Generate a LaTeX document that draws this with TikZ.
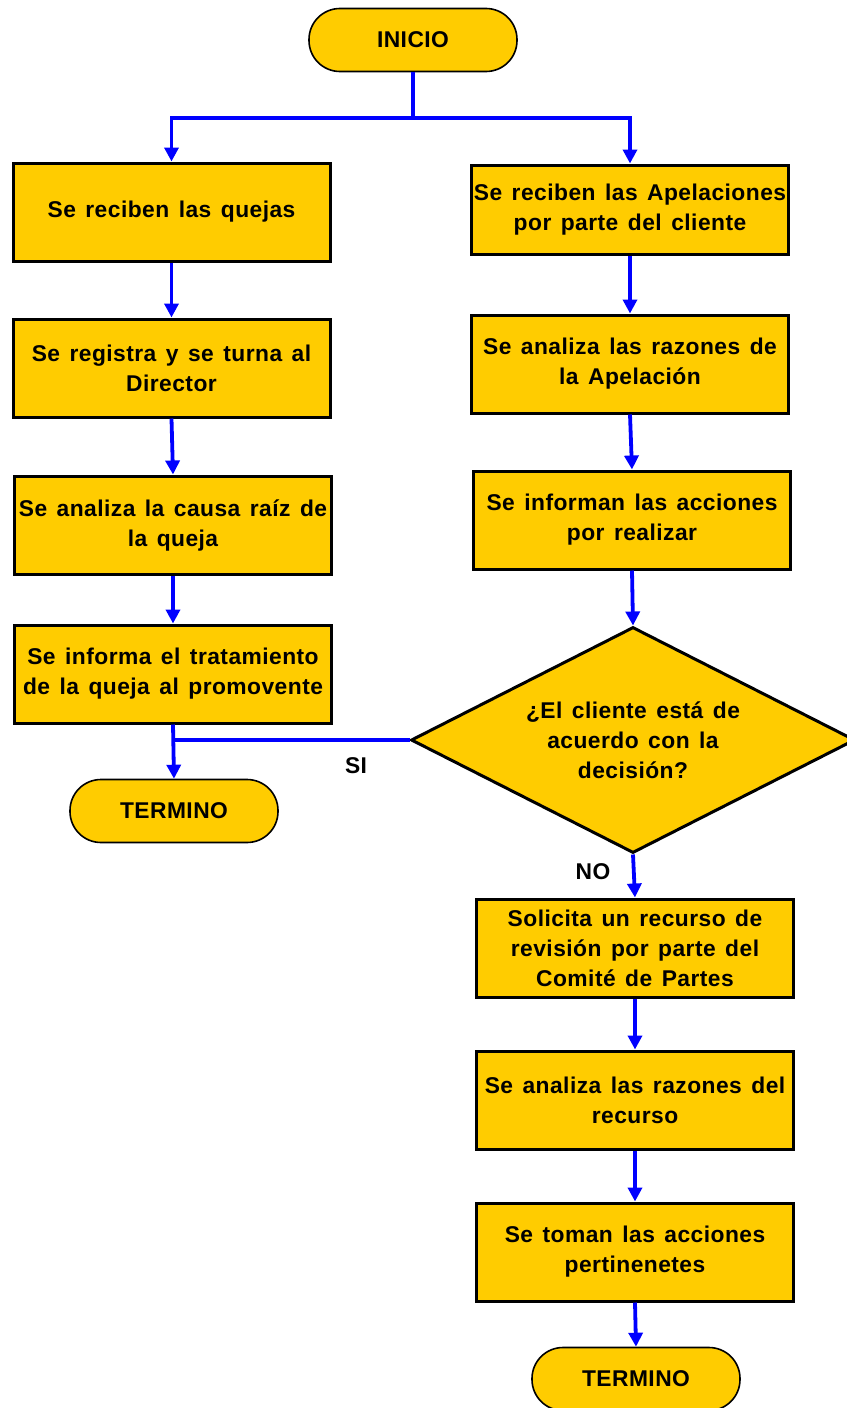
\documentclass[tikz,border=0pt]{standalone}
\usepackage{fontspec}
\setmainfont{Liberation Sans}[LetterSpace=2,WordSpace=1.4]
\usetikzlibrary{shapes.geometric,arrows.meta}
\definecolor{boxfill}{HTML}{FFCC00}
\definecolor{flowblue}{HTML}{0000FF}
\begin{document}
\begin{tikzpicture}[x=0.5pt,y=-0.5pt,
  txt/.style={font=\fontsize{11.4}{15}\selectfont\bfseries},
  procbox/.style={txt,draw=black,line width=1.5pt,fill=boxfill,minimum width=158.5pt,minimum height=49pt,inner sep=0pt,align=center},
  stadium/.style={txt,draw=black,line width=0.8pt,fill=boxfill,minimum width=104pt,minimum height=31.5pt,rounded corners=15.5pt,inner sep=0pt},
  decision/.style={txt,diamond,draw=black,line width=1.5pt,fill=boxfill,minimum width=222pt,minimum height=113pt,inner sep=0pt,aspect=1.96,align=center},
  flow/.style={draw=flowblue,line width=1.9pt},
  flowarrow/.style={flow,-{Triangle[width=7pt,length=7pt]}},
  lbl/.style={txt,inner sep=0pt}]
\useasboundingbox (0,0) rectangle (846,1408);
\node[stadium] (inicio) at (413,40) {INICIO};
\node[procbox] (L1) at (171.5,212) {Se reciben las quejas};
\node[procbox] (L2) at (171.5,368) {Se registra y se turna al\\Director};
\node[procbox] (L3) at (173,525) {Se analiza la causa raíz de\\la queja};
\node[procbox] (L4) at (173,674) {Se informa el tratamiento\\de la queja al promovente};
\node[stadium] (TL) at (174,811) {TERMINO};
\node[procbox,minimum height=44.5pt] (R1) at (630,209.5) {Se reciben las Apelaciones\\por parte del cliente};
\node[procbox] (R2) at (630,364) {Se analiza las razones de\\la Apelación};
\node[procbox] (R3) at (632,520) {Se informan las acciones\\por realizar};
\node[decision] (D) at (633,740) {¿El cliente está de\\acuerdo con la\\decisión?};
\node[procbox] (R4) at (635,948) {Solicita un recurso de\\revisión por parte del\\Comité de Partes};
\node[procbox] (R5) at (635,1100) {Se analiza las razones del\\recurso};
\node[procbox] (R6) at (635,1252) {Se toman las acciones\\pertinenetes};
\node[stadium] (TR) at (636,1379) {TERMINO};
\node[lbl] (si) at (356,766) {SI};
\node[lbl] (no) at (593,872) {NO};
\coordinate (split) at (inicio.south |- 0,118);
\draw[flow] (inicio.south) -- (split);
\draw[flowarrow] (split) -| (L1.north);
\draw[flowarrow] (split) -| (R1.north);
\draw[flowarrow] (L1) -- (L2);
\draw[flowarrow] (L2.south) -- (L3.north);
\draw[flowarrow] (L3) -- (L4);
\draw[flowarrow] (L4.south) -- (TL.north);
\coordinate (join) at (D.west -| TL.north);
\draw[flow] (D.west) -- (join);
\draw[flowarrow] (R1) -- (R2);
\draw[flowarrow] (R2.south) -- (R3.north);
\draw[flowarrow] (R3.south) -- (D.north);
\draw[flowarrow] (D.south) -- (R4.north);
\draw[flowarrow] (R4) -- (R5);
\draw[flowarrow] (R5) -- (R6);
\draw[flowarrow] (R6.south) -- (TR.north);
\end{tikzpicture}
\end{document}
